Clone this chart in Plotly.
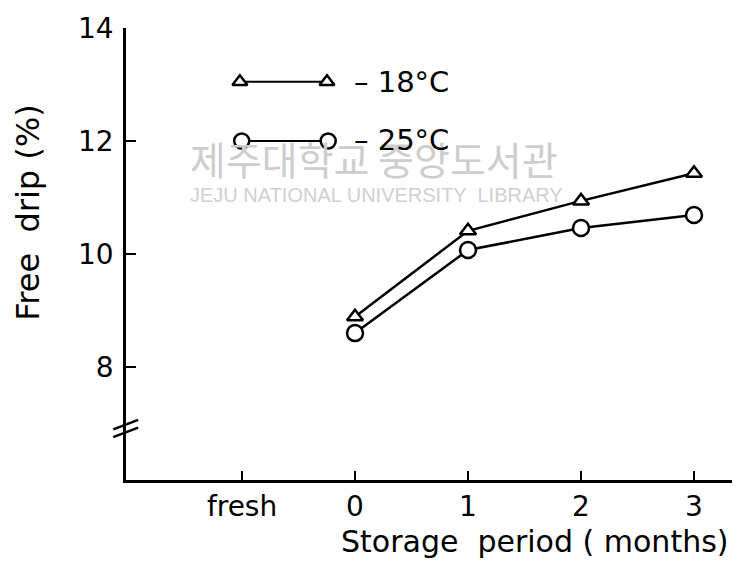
import plotly.graph_objects as go

# ---- data ----
categories = ["fresh", "0", "1", "2", "3"]
months = ["0", "1", "2", "3"]
drip_minus18 = [8.89, 10.41, 10.94, 11.43]
drip_minus25 = [8.60, 10.07, 10.46, 10.69]
y_ticks = [8, 10, 12, 14]
series_names = ["– 18°C", "– 25°C"]

FONT = "DejaVu Sans"
# page body adds an 8px offset, so the figure is sized/placed to compensate
W, H = 732, 564
L, R, T, B = 118, 5, 20, 92

fig = go.Figure()

fig.add_trace(go.Scatter(
    x=months, y=drip_minus18, mode="lines+markers", name=series_names[0],
    line=dict(color="black", width=2.5),
    marker=dict(symbol="triangle-up", size=14, color="white",
                line=dict(color="black", width=2.5)),
    showlegend=False, cliponaxis=False))
fig.add_trace(go.Scatter(
    x=months, y=drip_minus25, mode="lines+markers", name=series_names[1],
    line=dict(color="black", width=2.5),
    marker=dict(symbol="circle", size=16, color="white",
                line=dict(color="black", width=2.5)),
    showlegend=False, cliponaxis=False))

# ---- hand-drawn style legend on an overlay axis (layout only) ----
fig.add_trace(go.Scatter(
    x=[0.187, 0.330], y=[0.881, 0.881], xaxis="x2", yaxis="y2",
    mode="lines+markers", line=dict(color="black", width=2),
    marker=dict(symbol="triangle-up", size=13, color="white",
                line=dict(color="black", width=2.5)),
    showlegend=False, hoverinfo="skip", cliponaxis=False))
fig.add_trace(go.Scatter(
    x=[0.190, 0.332], y=[0.75, 0.75], xaxis="x2", yaxis="y2",
    mode="lines+markers", line=dict(color="black", width=2),
    marker=dict(symbol="circle", size=15, color="white",
                line=dict(color="black", width=2.5)),
    showlegend=False, hoverinfo="skip", cliponaxis=False))

annotations = [
    # watermark
    dict(text="제주대학교 중앙도서관", x=0.102, y=0.712, xref="paper", yref="paper",
         xanchor="left", yanchor="middle", showarrow=False,
         font=dict(family="Noto Sans CJK KR", size=39, color="#cdcdcd")),
    dict(text="JEJU NATIONAL UNIVERSITY  LIBRARY", x=0.102, y=0.631, xref="paper", yref="paper",
         xanchor="left", yanchor="middle", showarrow=False,
         font=dict(family="Liberation Sans", size=20, color="#d0d0d0")),
    # legend texts
    dict(text=series_names[0], x=0.371, y=0.881, xref="paper", yref="paper",
         xanchor="left", yanchor="middle", showarrow=False,
         font=dict(family=FONT, size=29, color="black")),
    dict(text=series_names[1], x=0.371, y=0.752, xref="paper", yref="paper",
         xanchor="left", yanchor="middle", showarrow=False,
         font=dict(family=FONT, size=29, color="black")),
    # axis titles
    dict(text="Free  drip (%)", x=-0.161, y=0.591, xref="paper", yref="paper",
         textangle=-90, xanchor="center", yanchor="middle", showarrow=False,
         font=dict(family=FONT, size=32, color="black")),
    dict(text="Storage  period ( months)", x=0.672, y=-0.137, xref="paper", yref="paper",
         xanchor="center", yanchor="middle", showarrow=False,
         font=dict(family=FONT, size=30, color="black")),
]

shapes = [
    dict(type="line", xref="paper", yref="paper", x0=-0.021, y0=0.095, x1=0.02, y1=0.116,
         line=dict(color="black", width=2.5)),
    dict(type="line", xref="paper", yref="paper", x0=-0.021, y0=0.112, x1=0.02, y1=0.133,
         line=dict(color="black", width=2.5)),
]

fig.update_layout(
    width=W, height=H,
    margin=dict(l=L, r=R, t=T, b=B, autoexpand=False),
    paper_bgcolor="white", plot_bgcolor="white",
    font=dict(family=FONT, color="black"),
    annotations=annotations, shapes=shapes,
    xaxis=dict(type="category", categoryorder="array", categoryarray=categories,
               range=[-1.027, 4.363], showgrid=False, zeroline=False, automargin=False,
               showline=True, linecolor="black", linewidth=2.5,
               ticks="inside", ticklen=9, tickwidth=2, tickcolor="black",
               tickfont=dict(family=FONT, size=28, color="black"),
               ticklabelstandoff=0, fixedrange=True),
    yaxis=dict(range=[6, 14], tickvals=y_ticks, ticktext=[str(v) for v in y_ticks],
               showgrid=False, zeroline=False, automargin=False,
               showline=True, linecolor="black", linewidth=2.5,
               ticks="inside", ticklen=10, tickwidth=2, tickcolor="black",
               tickfont=dict(family=FONT, size=28, color="black"),
               ticklabelstandoff=4, fixedrange=True),
    xaxis2=dict(overlaying="x", range=[0, 1], visible=False, fixedrange=True),
    yaxis2=dict(overlaying="y", range=[0, 1], visible=False, fixedrange=True),
)

fig.write_html("out.html")
